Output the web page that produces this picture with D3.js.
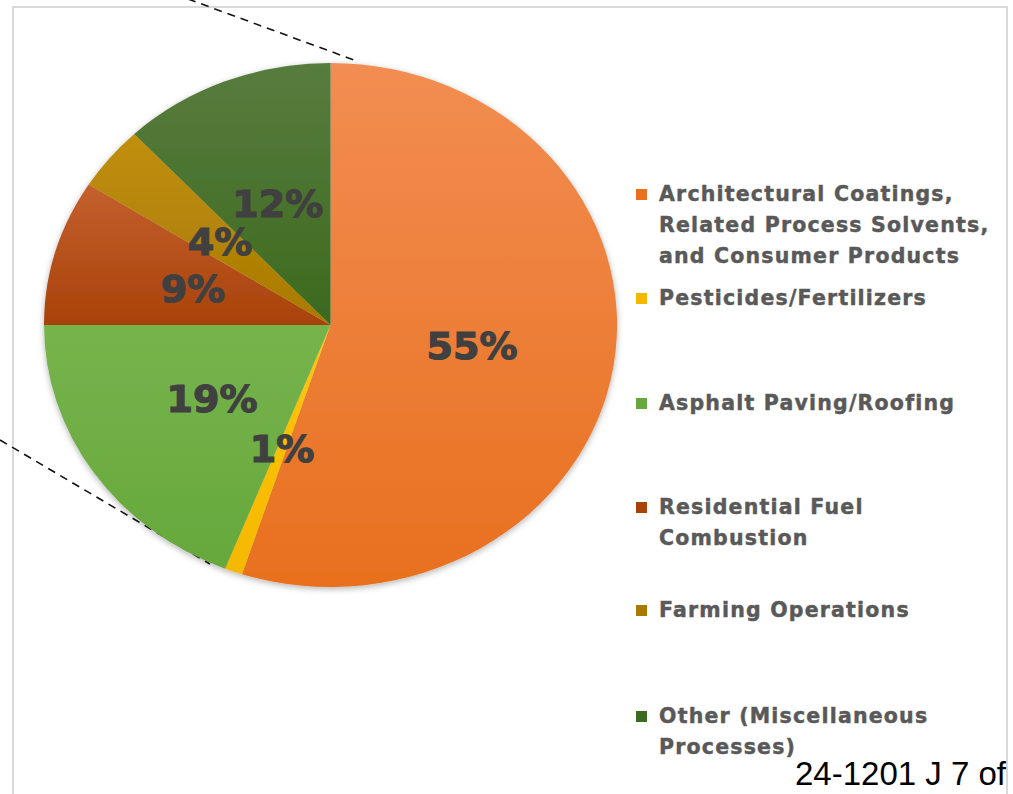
<!DOCTYPE html>
<html>
<head>
<meta charset="utf-8">
<script src="https://cdn.jsdelivr.net/npm/d3@7"></script>
<style>
  html, body { margin: 0; padding: 0; background: #fff; overflow: hidden; }
</style>
</head>
<body>
<div id="chart"></div>
<script>
// source categories and their shares (%)
var categories = [
  ["Architectural Coatings,", "Related Process Solvents,", "and Consumer Products"],
  ["Pesticides/Fertilizers"],
  ["Asphalt Paving/Roofing"],
  ["Residential Fuel", "Combustion"],
  ["Farming Operations"],
  ["Other (Miscellaneous", "Processes)"]
];
var shares = [55, 1, 19, 9, 4, 12];
var topColors = ["#f28d52", "#ffc60a", "#76b44c", "#c4602e", "#c08f10", "#587c3e"];
var bottomColors = ["#e8701e", "#f5b800", "#66a83c", "#a8420a", "#a87a00", "#3c6a1e"];

var W = 1013, H = 794;
var svg = d3.select("#chart").append("svg")
  .attr("width", W).attr("height", H);

var defs = svg.append("defs");
topColors.forEach(function(c, i) {
  var g = defs.append("linearGradient").attr("id", "grad" + i)
    .attr("x1", 0).attr("y1", 0).attr("x2", 0).attr("y2", 1);
  g.append("stop").attr("offset", "0%").attr("stop-color", c);
  g.append("stop").attr("offset", "100%").attr("stop-color", bottomColors[i]);
});
var shadow = defs.append("filter").attr("id", "shadow")
  .attr("x", "-10%").attr("y", "-10%").attr("width", "120%").attr("height", "120%");
shadow.append("feDropShadow").attr("dx", 0).attr("dy", 2)
  .attr("stdDeviation", 3).attr("flood-color", "#000").attr("flood-opacity", 0.3);

// frame
svg.append("rect").attr("x", 13).attr("y", 7).attr("width", 994).attr("height", 820)
  .attr("fill", "none").attr("stroke", "#d9d9d9").attr("stroke-width", 2);

// dashed callout lines
svg.append("line").attr("x1", 188).attr("y1", -1).attr("x2", 354).attr("y2", 60)
  .attr("stroke", "#111").attr("stroke-width", 1.6).attr("stroke-dasharray", "8,6");
svg.append("line").attr("x1", 0).attr("y1", 440).attr("x2", 210).attr("y2", 564)
  .attr("stroke", "#111").attr("stroke-width", 1.6).attr("stroke-dasharray", "8,6");

// pie (elliptical, as in the reference)
var cx = 330.5, cy = 325, rx = 286.5, ry = 262;
var pie = d3.pie().sort(null).value(function(d) { return d; });
var arcs = pie(shares);
var arc = d3.arc().innerRadius(0).outerRadius(1);

var pieG = svg.append("g").attr("filter", "url(#shadow)");
pieG.append("g")
  .attr("transform", "translate(" + cx + "," + cy + ") scale(" + rx + "," + ry + ")")
  .selectAll("path").data(arcs).enter().append("path")
  .attr("d", arc)
  .attr("fill", function(d, i) { return "url(#grad" + i + ")"; });

// percentage labels at arc centroids
svg.append("g").selectAll("text").data(arcs).enter().append("text")
  .attr("x", function(d) { return cx + arc.centroid(d)[0] * rx; })
  .attr("y", function(d) { return cy + arc.centroid(d)[1] * ry; })
  .attr("dy", "0.36em")
  .attr("text-anchor", "middle")
  .attr("font-family", "DejaVu Sans")
  .attr("font-weight", "bold")
  .attr("font-size", 38)
  .attr("fill", "#404040")
  .attr("stroke", "#404040")
  .attr("stroke-width", 1.2)
  .text(function(d) { return d.data + "%"; });

// legend
var legendY = [194, 298, 403, 507, 610, 716];
var legend = svg.append("g").selectAll("g").data(categories).enter().append("g")
  .attr("transform", function(d, i) { return "translate(636," + legendY[i] + ")"; });
legend.append("rect").attr("x", 0).attr("y", -5).attr("width", 11).attr("height", 11)
  .attr("fill", function(d, i) { return bottomColors[i]; });
legend.append("text")
  .attr("font-family", "DejaVu Sans")
  .attr("font-weight", "bold")
  .attr("font-size", 20.5)
  .attr("letter-spacing", 1.2)
  .attr("fill", "#595959")
  .attr("stroke", "#595959")
  .attr("stroke-width", 0.45)
  .selectAll("tspan").data(function(d) { return d; }).enter().append("tspan")
  .attr("x", 23)
  .attr("y", function(d, j) { return j * 31; })
  .attr("dy", "0.36em")
  .text(function(d) { return d; });

// page stamp
svg.append("text").attr("x", 795).attr("y", 785)
  .attr("font-family", "Liberation Sans, Arial, sans-serif")
  .attr("font-size", 33).attr("fill", "#000")
  .text("24-1201 J 7 of");
</script>
</body>
</html>
